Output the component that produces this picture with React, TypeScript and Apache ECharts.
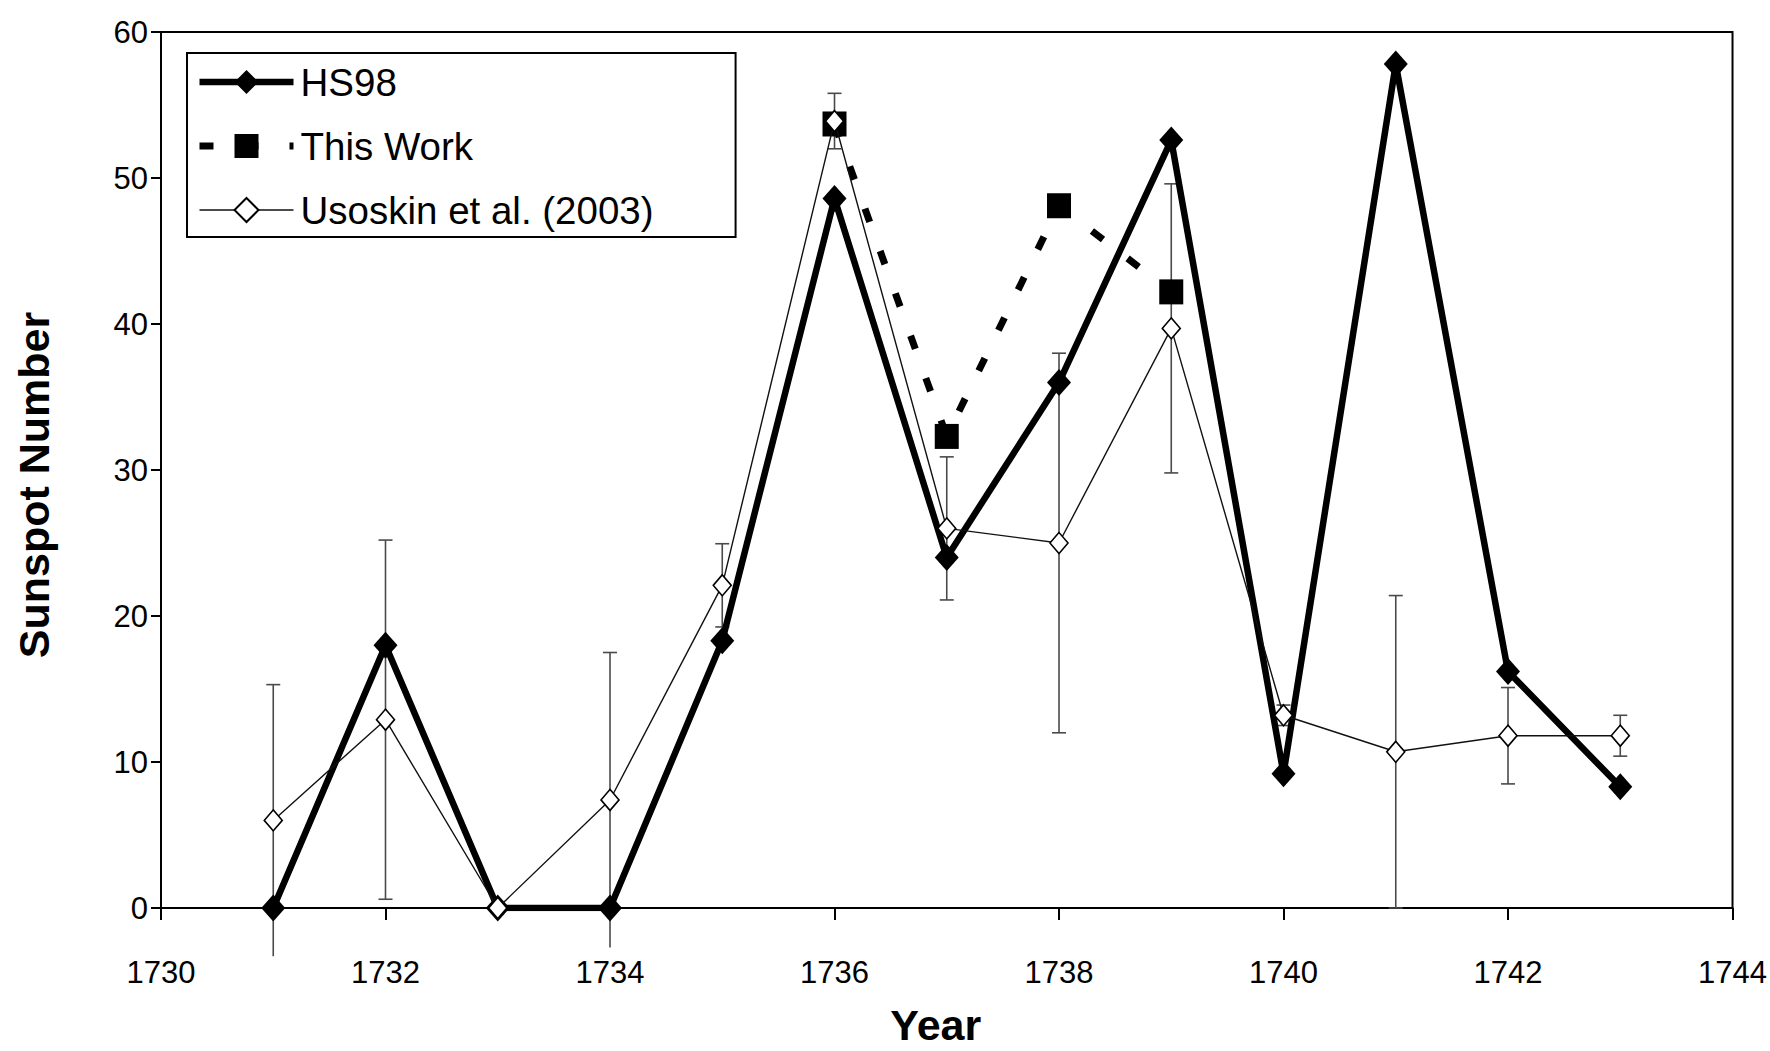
import React, { useEffect, useRef } from "react";
import * as echarts from "echarts";

// Observation years shared by the HS98 and Usoskin series
const years = [1731, 1732, 1733, 1734, 1735, 1736, 1737, 1738, 1739, 1740, 1741, 1742, 1743];

// Hoyt & Schatten (1998) group sunspot numbers
const hs98 = [0, 18.0, 0, 0, 18.3, 48.6, 24.0, 36.0, 52.6, 9.2, 57.8, 16.2, 8.3];

// Reconstruction from this work
const thisWorkYears = [1736, 1737, 1738, 1739];
const thisWork = [53.7, 32.3, 48.1, 42.2];

// Usoskin et al. (2003) values and their symmetric uncertainties
const usoskin = [6.0, 12.9, 0, 7.4, 22.1, 53.9, 26.0, 25.0, 39.7, 13.2, 10.7, 11.8, 11.8];
const usoskinErr = [9.3, 12.3, 0, 10.1, 2.85, 1.9, 4.9, 13.0, 9.9, 0.7, 10.7, 3.3, 1.4];

// Axis ranges
const xMin = 1730;
const xMax = 1744;
const xStep = 2;
const yMin = 0;
const yMax = 60;
const yStep = 10;

const FONT = "'Liberation Sans', Arial, Helvetica, sans-serif";

export default function App() {
  const ref = useRef<HTMLDivElement>(null);

  useEffect(() => {
    if (!ref.current) return;
    const chart = echarts.init(ref.current, undefined, { renderer: "svg" });

    const hsData = years.map((y, i) => [y, hs98[i]]);
    const twData = thisWorkYears.map((y, i) => [y, thisWork[i]]);
    const usData = years.map((y, i) => [y, usoskin[i]]);
    const errData = years
      .map((y, i) => [y, usoskin[i] - usoskinErr[i], usoskin[i] + usoskinErr[i]])
      .filter((d, i) => usoskinErr[i] > 0);

    chart.setOption({
      animation: false,
      backgroundColor: "#ffffff",
      textStyle: { fontFamily: FONT, color: "#000" },
      grid: {
        left: 161,
        right: 35,
        top: 32,
        bottom: 139,
        show: true,
        borderColor: "#000",
        borderWidth: 2,
        backgroundColor: "transparent",
      },
      legend: {
        data: ["HS98", "This Work", "Usoskin et al. (2003)"],
        orient: "vertical",
        left: 187,
        top: 53,
        padding: [9, 82, 7, 9],
        itemWidth: 94,
        itemHeight: 30,
        itemGap: 24,
        borderColor: "#000",
        borderWidth: 2,
        backgroundColor: "#fff",
        lineStyle: { width: "inherit", type: "inherit" },
        textStyle: {
          fontFamily: FONT,
          fontSize: 38.5,
          color: "#000",
          lineHeight: 40,
          padding: [0, 0, 0, 2],
        },
      },
      xAxis: {
        type: "value",
        min: xMin,
        max: xMax,
        interval: xStep,
        name: "Year",
        nameLocation: "middle",
        nameGap: 95,
        nameTextStyle: {
          fontFamily: FONT,
          fontSize: 43,
          fontWeight: "bold",
          color: "#000",
          padding: [0, 22, 0, 0],
        },
        axisLine: { onZero: false, lineStyle: { color: "#000", width: 2 } },
        axisTick: { show: true, length: 12, lineStyle: { color: "#000", width: 2 } },
        axisLabel: {
          fontFamily: FONT,
          fontSize: 31,
          color: "#000",
          margin: 49,
          formatter: (v: number) => String(v),
        },
        splitLine: { show: false },
      },
      yAxis: {
        type: "value",
        min: yMin,
        max: yMax,
        interval: yStep,
        name: "Sunspot Number",
        nameLocation: "middle",
        nameGap: 106,
        nameTextStyle: {
          fontFamily: FONT,
          fontSize: 43,
          fontWeight: "bold",
          color: "#000",
          padding: [0, 30, 0, 0],
        },
        axisLine: { lineStyle: { color: "#000", width: 2 } },
        axisTick: { show: true, length: 10, lineStyle: { color: "#000", width: 2 } },
        axisLabel: { fontFamily: FONT, fontSize: 31, color: "#000", margin: 13 },
        splitLine: { show: false },
      },
      series: [
        {
          name: "Usoskin error",
          type: "custom",
          clip: false,
          z: 1,
          silent: true,
          data: errData,
          encode: { x: 0, y: [1, 2] },
          renderItem: (_params: any, api: any) => {
            const x = api.value(0);
            const lo = api.value(1);
            const hi = api.value(2);
            const top = api.coord([x, hi]);
            const bot = api.coord([x, lo]);
            const half = 7;
            const style = { stroke: "#4a4a4a", lineWidth: 1.6 };
            const children: any[] = [
              { type: "line", shape: { x1: top[0], y1: top[1], x2: bot[0], y2: bot[1] }, style },
              { type: "line", shape: { x1: top[0] - half, y1: top[1], x2: top[0] + half, y2: top[1] }, style },
            ];
            if (lo >= 0) {
              children.push({
                type: "line",
                shape: { x1: bot[0] - half, y1: bot[1], x2: bot[0] + half, y2: bot[1] },
                style,
              });
            }
            return { type: "group", children };
          },
        },
        {
          name: "HS98",
          type: "line",
          z: 2,
          data: hsData,
          symbol: "diamond",
          symbolSize: [24, 27],
          lineStyle: { color: "#000", width: 6.5 },
          itemStyle: { color: "#000", borderColor: "#000", borderWidth: 0 },
        },
        {
          name: "This Work",
          type: "line",
          z: 3,
          data: twData,
          symbol: "rect",
          symbolSize: [24, 25],
          lineStyle: { color: "#000", width: 7, type: [14, 31] },
          itemStyle: { color: "#000", borderWidth: 0 },
        },
        {
          name: "Usoskin et al. (2003)",
          type: "line",
          z: 4,
          data: usData,
          symbol: "diamond",
          symbolSize: [18, 21],
          lineStyle: { color: "#111", width: 1.4 },
          itemStyle: { color: "#fff", borderColor: "#000", borderWidth: 1.6 },
        },
      ],
    });

    return () => chart.dispose();
  }, []);

  return (
    <div
      ref={ref}
      style={{
        position: "absolute",
        left: 0,
        top: 0,
        width: 1770,
        height: 1051,
        overflow: "hidden",
        background: "#fff",
      }}
    />
  );
}
